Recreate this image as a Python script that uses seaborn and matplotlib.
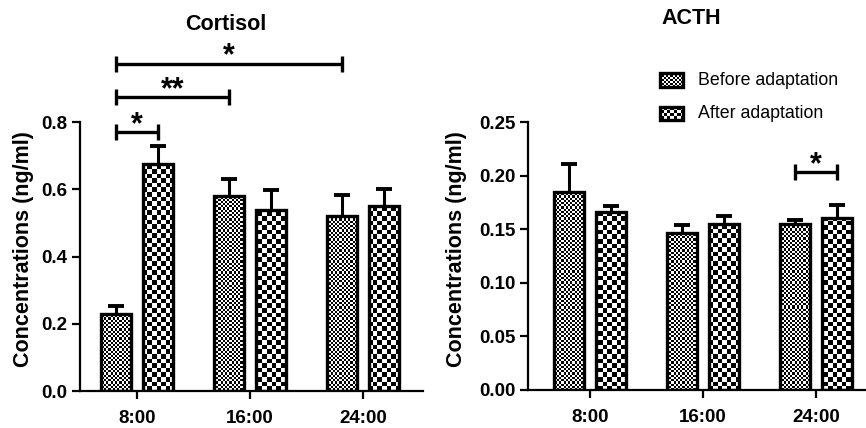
import matplotlib

matplotlib.use("Agg")

import matplotlib.pyplot as plt
import numpy as np
import pandas as pd
import seaborn as sns
from matplotlib.container import BarContainer
from matplotlib.patches import Rectangle


TIMES = ["8:00", "16:00", "24:00"]
GROUPS = ["Before adaptation", "After adaptation"]

cortisol_before = [0.228, 0.579, 0.522]
cortisol_after = [0.676, 0.537, 0.549]
cortisol_before_err = [0.024, 0.053, 0.062]
cortisol_after_err = [0.052, 0.062, 0.051]

acth_before = [0.185, 0.146, 0.155]
acth_after = [0.166, 0.155, 0.160]
acth_before_err = [0.026, 0.008, 0.004]
acth_after_err = [0.006, 0.0075, 0.0124]

# (time index, group, time index, group, y, label)
cortisol_brackets = [
    (0, 0, 0, 1, 0.770, "*"),
    (0, 0, 1, 0, 0.874, "**"),
    (0, 0, 2, 0, 0.974, "*"),
]
acth_brackets = [
    (2, 0, 2, 1, 0.203, "*"),
]

CELL = {0: 2.2, 1: 4.6}
FONT = "Liberation Sans"


def make_frame(before, after):
    rows = []
    for t, b, a in zip(TIMES, before, after):
        rows.append({"Time": t, "Group": GROUPS[0], "Value": b})
        rows.append({"Time": t, "Group": GROUPS[1], "Value": a})
    return pd.DataFrame(rows)


def checker(w, h, x0, y0, cell):
    xs = np.arange(w) + x0
    ys = np.arange(h) + y0
    return (np.floor(xs / cell)[None, :] + np.floor(ys / cell)[:, None]) % 2


def fill_checker(ax, patch, cell):
    bbox = patch.get_window_extent()
    w = max(1, int(round(bbox.width)))
    h = max(1, int(round(bbox.height)))
    arr = checker(w, h, bbox.x0, bbox.y0, cell)
    x0, y0 = patch.get_x(), patch.get_y()
    im = ax.imshow(
        arr,
        extent=(x0, x0 + patch.get_width(), y0, y0 + patch.get_height()),
        origin="lower",
        cmap="gray",
        vmin=0,
        vmax=1,
        interpolation="nearest",
        aspect="auto",
        zorder=2,
    )
    im.set_clip_path(patch)


def px_to_data(ax, px):
    y0, y1 = ax.get_ylim()
    return px * (y1 - y0) / ax.get_window_extent().height


def draw_panel(ax, before, after, before_err, after_err, brackets,
               ylim, top, yticks, ylabels, xlim):
    data = make_frame(before, after)
    sns.barplot(
        data=data,
        x="Time",
        y="Value",
        hue="Group",
        order=TIMES,
        hue_order=GROUPS,
        width=0.75,
        gap=0.3,
        errorbar=None,
        palette=["white", "white"],
        edgecolor="black",
        linewidth=2.4,
        legend=False,
        ax=ax,
    )
    ax.set_xlim(*xlim)
    ax.set_ylim(*ylim)

    errs = [before_err, after_err]
    bars = [c for c in ax.containers if isinstance(c, BarContainer)]
    centers = {}
    for g, container in enumerate(bars):
        xs = []
        ys = []
        for i, patch in enumerate(container.patches):
            patch.set_facecolor("none")
            patch.set_zorder(3)
            fill_checker(ax, patch, CELL[g])
            cx = patch.get_x() + patch.get_width() / 2
            centers[(i, g)] = cx
            xs.append(cx)
            ys.append(patch.get_height())
        ax.errorbar(xs, ys, yerr=errs[g], fmt="none", ecolor="black",
                    elinewidth=2.2, capsize=6, capthick=2.8, zorder=1)

    cap = px_to_data(ax, 8)
    for t1, g1, t2, g2, y, label in brackets:
        x1, x2 = centers[(t1, g1)], centers[(t2, g2)]
        ax.hlines(y, x1, x2, color="black", linewidth=2.4, zorder=4)
        ax.vlines([x1, x2], y - cap, y + cap, color="black", linewidth=2.4, zorder=4)
        ax.annotate(label, xy=((x1 + x2) / 2, y), xytext=(0, 5),
                    textcoords="offset points", ha="center", va="center",
                    fontsize=22, fontweight="bold", family=FONT, color="black")

    ax.set_yticks(yticks)
    ax.set_yticklabels(ylabels, fontsize=13.5, fontweight="bold", family=FONT)
    ax.set_xticks(range(len(TIMES)))
    ax.set_xticklabels(TIMES, fontsize=13.5, fontweight="bold", family=FONT)
    ax.set_xlabel("")
    ax.set_ylabel("Concentrations (ng/ml)", fontsize=15.5, fontweight="bold", family=FONT)

    sns.despine(ax=ax)
    ax.spines["left"].set_bounds(0, top)
    for side in ("left", "bottom"):
        ax.spines[side].set_linewidth(1.6)
        ax.spines[side].set_color("black")
    ax.tick_params(axis="both", direction="out", length=6, width=1.6,
                   color="black", labelcolor="black")
    ax.tick_params(axis="y", pad=3)
    ax.tick_params(axis="x", pad=8)


sns.set_style("ticks")
plt.rcParams["font.family"] = [FONT, "DejaVu Sans"]
plt.rcParams["text.color"] = "black"
plt.rcParams["axes.labelcolor"] = "black"
plt.rcParams["axes.edgecolor"] = "black"
plt.rcParams["xtick.color"] = "black"
plt.rcParams["ytick.color"] = "black"

fig = plt.figure(figsize=(8.66, 4.28), dpi=100)
ax1 = fig.add_axes([80 / 866, 37 / 428, 343 / 866, 351 / 428])
ax2 = fig.add_axes([528 / 866, 38 / 428, 338 / 866, 350 / 428])

draw_panel(ax1, cortisol_before, cortisol_after, cortisol_before_err, cortisol_after_err,
           cortisol_brackets, (0, 1.044), 0.8, [0, 0.2, 0.4, 0.6, 0.8],
           ["0.0", "0.2", "0.4", "0.6", "0.8"], (-0.504, 2.531))
draw_panel(ax2, acth_before, acth_after, acth_before_err, acth_after_err,
           acth_brackets, (0, 0.3265), 0.25, [0, 0.05, 0.10, 0.15, 0.20, 0.25],
           ["0.00", "0.05", "0.10", "0.15", "0.20", "0.25"], (-0.549, 2.442))

ax1.yaxis.set_label_coords(-0.134, 0.404)
ax2.yaxis.set_label_coords(-0.18, 0.403)

ax1.set_title("Cortisol", x=0.426, y=1.045, pad=0, va="center",
              fontsize=15.5, fontweight="bold", family=FONT, color="black")
ax2.set_title("ACTH", x=0.482, y=1.06, pad=0, va="center",
              fontsize=15.5, fontweight="bold", family=FONT, color="black")

# legend drawn as swatches in axes coordinates
swatches = [(0.8657, 0.9057, 0.8857, 2.0), (0.7714, 0.8086, 0.7914, 3.2)]
for (y0, y1, ytext, cell), label in zip(swatches, GROUPS):
    x0, x1 = 0.3905, 0.4586
    arr = checker(23, 14, 0, 0, cell)
    arr[0, :] = 0
    arr[-1, :] = 0
    arr[:, 0] = 0
    arr[:, -1] = 0
    ax2.imshow(arr, extent=(x0, x1, y0, y1), transform=ax2.transAxes, origin="lower",
               cmap="gray", vmin=0, vmax=1, interpolation="nearest", aspect="auto",
               zorder=5)
    ax2.add_patch(Rectangle((x0, y0), x1 - x0, y1 - y0, transform=ax2.transAxes,
                            facecolor="none", edgecolor="black", linewidth=2.4, zorder=6))
    ax2.text(0.503, ytext, label, transform=ax2.transAxes, ha="left", va="center",
             fontsize=12.8, family=FONT, color="black")

ax2.set_xlim(-0.549, 2.442)
ax2.set_ylim(0, 0.3265)
ax1.set_xlim(-0.504, 2.531)
ax1.set_ylim(0, 1.044)

fig.savefig("out.png", dpi=100)
plt.close(fig)
